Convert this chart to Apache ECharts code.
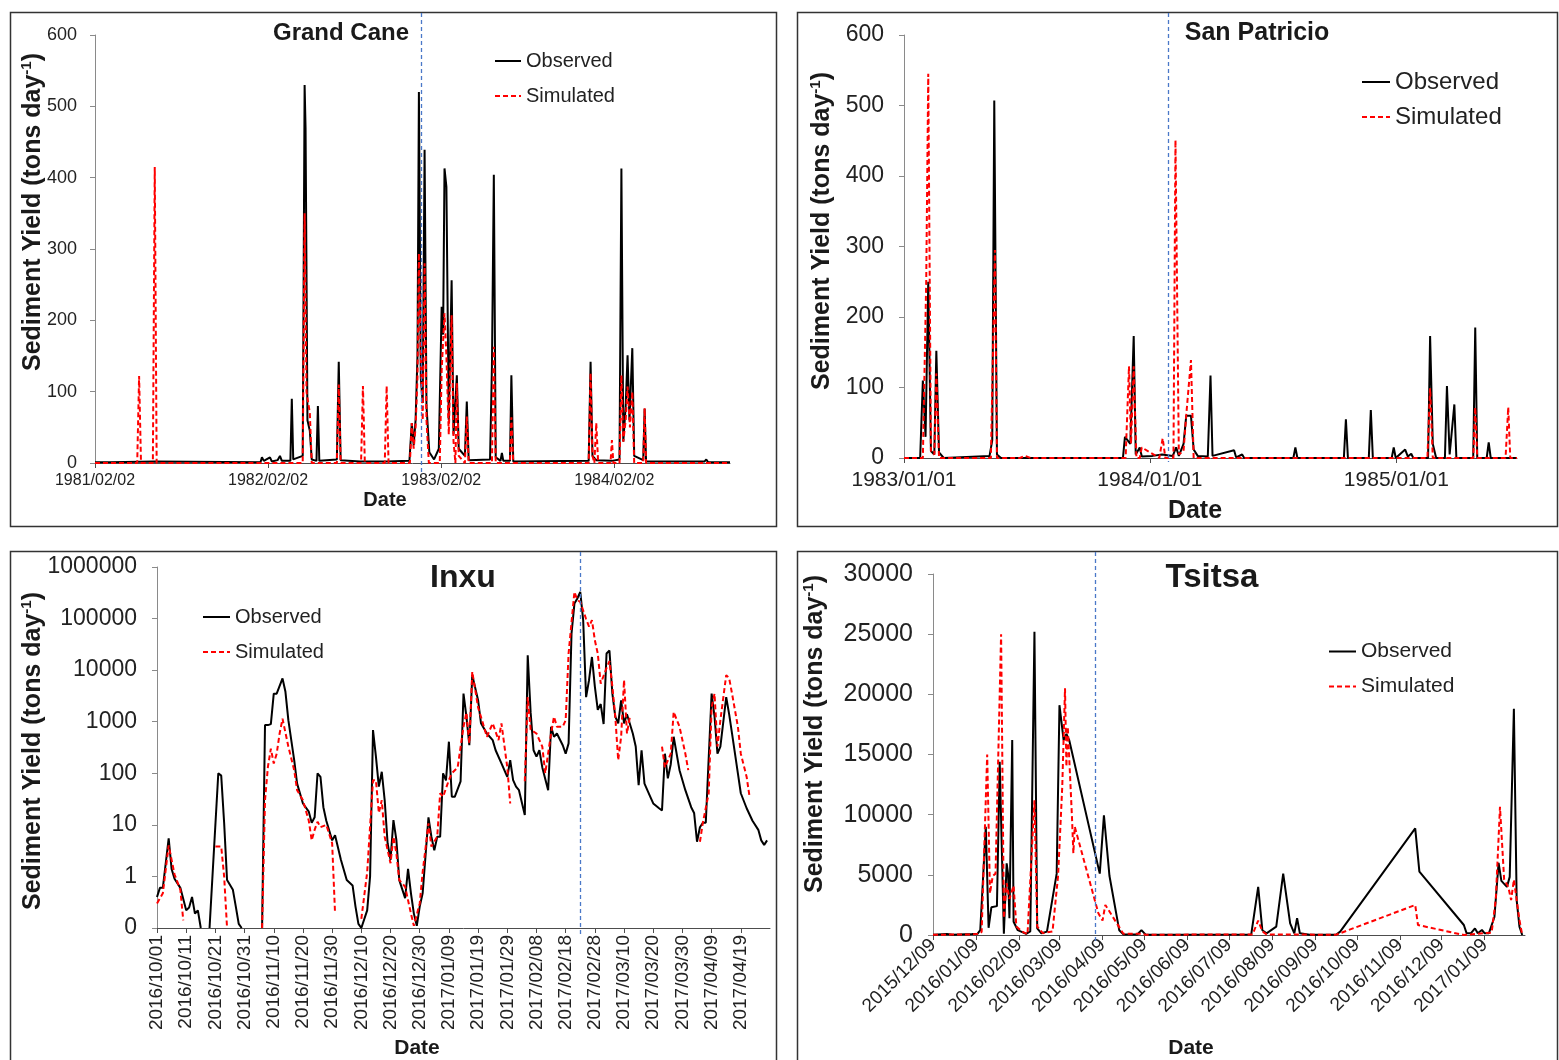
<!DOCTYPE html>
<html><head><meta charset="utf-8">
<script src="https://cdn.jsdelivr.net/npm/echarts@6/dist/echarts.min.js"></script>
<style>html,body{margin:0;padding:0;background:#fff}#c{width:1559px;height:1060px}</style>
</head><body><div id="c"></div>
<script>
// ---------------- DATA ----------------
const seriesNames = ['Observed', 'Simulated'];
const panelTitles = ['Grand Cane', 'San Patricio', 'Inxu', 'Tsitsa'];
const xAxisTitle = 'Date';

// Grand Cane
const gcTicks = ['1981/02/02', '1982/02/02', '1983/02/02', '1984/02/02'];
const gcRange = ['1981/02/02', '1984/10/03'];
const gcSplit = '1982/12/23';
const gcObserved = [['1981/02/02',1],['1981/02/26',1],['1981/03/01',3],['1981/03/05',1],['1981/06/08',2],['1981/06/12',1],
['1982/01/17',1],['1982/01/20',8],['1982/01/24',3],['1982/02/06',8],['1982/02/10',2],['1982/02/22',4],['1982/02/27',10],['1982/03/03',3],
['1982/03/21',3],['1982/03/24',90],['1982/03/27',5],['1982/04/16',10],['1982/04/20',530],['1982/04/22',470],['1982/04/26',60],['1982/05/01',45],
['1982/05/05',5],['1982/05/15',3],['1982/05/18',80],['1982/05/21',3],['1982/06/27',5],['1982/07/01',142],['1982/07/05',4],['1982/08/15',2],
['1982/10/10',2],['1982/11/27',3],['1982/12/02',56],['1982/12/06',25],['1982/12/10',60],['1982/12/14',150],['1982/12/17',520],['1982/12/21',120],
['1982/12/25',84],['1982/12/29',439],['1983/01/02',80],['1983/01/08',15],['1983/01/18',5],['1983/01/28',20],['1983/02/03',219],['1983/02/06',180],
['1983/02/09',413],['1983/02/13',387],['1983/02/18',60],['1983/02/24',256],['1983/02/28',40],['1983/03/07',123],['1983/03/11',20],['1983/03/24',10],
['1983/03/28',86],['1983/04/01',4],['1983/05/16',5],['1983/05/20',135],['1983/05/24',404],['1983/05/28',8],['1983/06/07',3],['1983/06/10',14],
['1983/06/13',3],['1983/06/27',3],['1983/06/30',123],['1983/07/04',2],['1983/12/10',3],['1983/12/14',142],['1983/12/18',10],['1983/12/26',4],
['1984/01/28',3],['1984/02/13',5],['1984/02/17',413],['1984/02/21',30],['1984/02/26',80],['1984/03/01',151],['1984/03/05',60],['1984/03/11',161],
['1984/03/15',10],['1984/04/03',4],['1984/04/06',76],['1984/04/09',2],['1984/08/10',2],['1984/08/14',5],['1984/08/18',1],['1984/10/03',1]];
const gcSimulated = [['1981/02/02',0],['1981/05/02',0],['1981/05/06',122],['1981/05/10',0],['1981/06/04',0],['1981/06/08',415],['1981/06/12',0],
['1982/04/16',0],['1982/04/20',350],['1982/04/24',100],['1982/05/01',70],['1982/05/05',0],['1982/06/27',0],['1982/07/01',110],['1982/07/05',0],
['1982/08/17',0],['1982/08/21',108],['1982/08/25',0],['1982/10/06',0],['1982/10/10',108],['1982/10/14',0],['1982/11/28',0],['1982/12/02',56],
['1982/12/06',20],['1982/12/10',50],['1982/12/14',120],['1982/12/17',294],['1982/12/21',150],['1982/12/25',60],['1982/12/29',280],['1983/01/02',60],
['1983/01/07',0],['1983/01/30',0],['1983/02/03',130],['1983/02/09',210],['1983/02/13',150],['1983/02/18',40],['1983/02/24',207],['1983/02/28',30],
['1983/03/04',0],['1983/03/07',112],['1983/03/11',10],['1983/03/24',0],['1983/03/28',65],['1983/04/01',0],['1983/05/20',0],['1983/05/24',163],
['1983/05/28',0],['1983/06/27',0],['1983/06/30',64],['1983/07/04',0],['1983/12/10',0],['1983/12/14',126],['1983/12/18',10],['1983/12/22',0],
['1983/12/26',56],['1983/12/30',0],['1984/01/25',0],['1984/01/28',32],['1984/01/31',0],['1984/02/13',0],['1984/02/17',123],['1984/02/21',30],
['1984/02/26',60],['1984/03/01',107],['1984/03/06',50],['1984/03/11',100],['1984/03/15',0],['1984/04/03',0],['1984/04/06',77],['1984/04/09',0],
['1984/10/03',0]];

// San Patricio
const spTicks = ['1983/01/01', '1984/01/01', '1985/01/01'];
const spRange = ['1983/01/01', '1985/06/29'];
const spSplit = '1984/01/28';
const spObserved = [['1983/01/01',0],['1983/01/25',0],['1983/01/29',110],['1983/02/02',30],['1983/02/06',250],['1983/02/10',10],['1983/02/15',5],
['1983/02/18',152],['1983/02/22',8],['1983/03/01',0],['1983/05/08',3],['1983/05/12',25],['1983/05/15',507],['1983/05/19',5],['1983/05/25',0],
['1983/11/22',0],['1983/11/25',30],['1983/12/03',20],['1983/12/08',173],['1983/12/11',5],['1983/12/17',15],['1983/12/20',2],['1984/01/05',3],
['1984/01/19',5],['1984/02/04',3],['1984/02/09',15],['1984/02/13',3],['1984/02/20',20],['1984/02/24',60],['1984/03/02',60],['1984/03/06',12],
['1984/03/12',3],['1984/03/27',2],['1984/03/31',117],['1984/04/03',3],['1984/05/05',11],['1984/05/08',1],['1984/05/17',5],['1984/05/20',0],
['1984/08/01',0],['1984/08/04',15],['1984/08/07',0],['1984/10/15',0],['1984/10/18',55],['1984/10/21',0],['1984/11/21',0],['1984/11/24',68],
['1984/11/27',0],['1984/12/25',0],['1984/12/28',15],['1984/12/31',0],['1985/01/14',12],['1985/01/18',2],['1985/01/23',6],['1985/01/26',0],
['1985/02/17',0],['1985/02/20',173],['1985/02/24',20],['1985/03/01',0],['1985/03/14',0],['1985/03/17',102],['1985/03/21',5],['1985/03/28',76],
['1985/03/31',0],['1985/04/25',0],['1985/04/28',185],['1985/05/01',0],['1985/05/15',0],['1985/05/18',22],['1985/05/21',0],['1985/06/29',0]];
const spSimulated = [['1983/01/01',0],['1983/01/29',0],['1983/02/03',252],['1983/02/06',545],['1983/02/10',10],['1983/02/15',5],['1983/02/18',120],
['1983/02/22',0],['1983/05/10',0],['1983/05/16',295],['1983/05/19',0],['1983/06/22',0],['1983/06/30',3],['1983/07/08',0],['1983/11/26',0],
['1983/12/01',130],['1983/12/04',20],['1983/12/08',130],['1983/12/12',0],['1983/12/17',0],['1983/12/20',15],['1984/01/15',0],['1984/01/20',28],
['1984/01/24',0],['1984/02/05',0],['1984/02/08',451],['1984/02/13',5],['1984/02/20',10],['1984/02/24',61],['1984/03/02',139],['1984/03/06',0],
['1985/02/16',0],['1985/02/20',99],['1985/02/24',0],['1985/04/25',0],['1985/04/28',72],['1985/05/01',0],['1985/06/12',0],['1985/06/16',72],
['1985/06/19',0],['1985/06/29',0]];

// Inxu
const inTicks = ['2016/10/01','2016/10/11','2016/10/21','2016/10/31','2016/11/10','2016/11/20','2016/11/30','2016/12/10','2016/12/20',
'2016/12/30','2017/01/09','2017/01/19','2017/01/29','2017/02/08','2017/02/18','2017/02/28','2017/03/10','2017/03/20','2017/03/30',
'2017/04/09','2017/04/19'];
const inYTicks = [0.1, 1, 10, 100, 1000, 10000, 100000, 1000000];
const inRange = ['2016/10/01', '2017/04/29'];
const inSplit = '2017/02/23';
const inObserved = [['2016/10/01',0.4],['2016/10/02',0.6],['2016/10/03',0.6],['2016/10/05',5.5],['2016/10/06',1.4],['2016/10/07',0.9],
['2016/10/09',0.6],['2016/10/11',0.22],['2016/10/12',0.25],['2016/10/13',0.4],['2016/10/14',0.19],['2016/10/15',0.22],['2016/10/16',0.1],
['2016/10/17',null],['2016/10/19',0.1],['2016/10/22',100],['2016/10/23',90],['2016/10/24',11],['2016/10/25',0.85],['2016/10/27',0.55],
['2016/10/28',0.26],['2016/10/29',0.12],['2016/10/30',0.1],['2016/10/31',null],['2016/11/06',0.1],['2016/11/07',860],['2016/11/08',860],
['2016/11/09',900],['2016/11/10',3500],['2016/11/11',3500],['2016/11/13',6900],['2016/11/14',3800],['2016/11/15',1070],['2016/11/17',180],
['2016/11/18',63],['2016/11/20',26],['2016/11/22',18],['2016/11/23',11],['2016/11/24',14],['2016/11/25',100],['2016/11/26',85],['2016/11/27',22],
['2016/11/28',12],['2016/11/30',5],['2016/12/01',6.3],['2016/12/03',2.1],['2016/12/05',0.85],['2016/12/07',0.67],['2016/12/08',0.26],
['2016/12/09',0.12],['2016/12/10',0.1],['2016/12/12',0.22],['2016/12/13',1],['2016/12/14',690],['2016/12/15',210],['2016/12/16',55],
['2016/12/17',107],['2016/12/18',30],['2016/12/19',4.4],['2016/12/20',2.1],['2016/12/21',12.4],['2016/12/22',5.1],['2016/12/23',0.85],
['2016/12/25',0.38],['2016/12/26',1.4],['2016/12/27',0.47],['2016/12/28',0.19],['2016/12/29',0.11],['2016/12/30',0.26],['2016/12/31',0.47],
['2017/01/02',14],['2017/01/03',5.9],['2017/01/04',3.2],['2017/01/05',5.9],['2017/01/06',5.9],['2017/01/07',100],['2017/01/08',73],
['2017/01/09',410],['2017/01/10',35],['2017/01/11',35],['2017/01/13',70],['2017/01/14',3500],['2017/01/15',1250],['2017/01/16',350],
['2017/01/17',8000],['2017/01/19',2600],['2017/01/20',930],['2017/01/22',590],['2017/01/24',440],['2017/01/25',280],['2017/01/27',155],
['2017/01/29',85],['2017/01/30',180],['2017/01/31',74],['2017/02/01',55],['2017/02/02',47],['2017/02/04',15.5],['2017/02/05',19500],
['2017/02/06',1500],['2017/02/07',280],['2017/02/08',210],['2017/02/09',280],['2017/02/10',130],['2017/02/12',47],['2017/02/13',800],
['2017/02/14',510],['2017/02/15',590],['2017/02/17',350],['2017/02/18',240],['2017/02/19',380],['2017/02/20',51000],['2017/02/21',195000],
['2017/02/22',245000],['2017/02/23',330000],['2017/02/24',93000],['2017/02/25',3000],['2017/02/26',6400],['2017/02/27',18000],['2017/02/28',4800],
['2017/03/01',1700],['2017/03/02',2200],['2017/03/03',900],['2017/03/04',21000],['2017/03/05',24000],['2017/03/06',3500],['2017/03/07',1250],
['2017/03/08',930],['2017/03/09',2600],['2017/03/10',930],['2017/03/11',1400],['2017/03/13',590],['2017/03/14',330],['2017/03/15',59],
['2017/03/16',280],['2017/03/17',63],['2017/03/19',35],['2017/03/20',26],['2017/03/22',21],['2017/03/23',19],['2017/03/24',240],['2017/03/25',80],
['2017/03/26',150],['2017/03/27',510],['2017/03/29',115],['2017/03/31',47],['2017/04/02',22],['2017/04/03',17],['2017/04/04',4.7],['2017/04/05',9],
['2017/04/06',11],['2017/04/07',11],['2017/04/09',3500],['2017/04/10',1250],['2017/04/11',240],['2017/04/12',330],['2017/04/14',3000],
['2017/04/15',1400],['2017/04/16',590],['2017/04/18',100],['2017/04/19',41],['2017/04/21',21],['2017/04/23',12],['2017/04/25',8],['2017/04/26',5],
['2017/04/27',4.1],['2017/04/28',5]];
const inSimulated = [['2016/10/01',0.3],['2016/10/03',0.47],['2016/10/05',4],['2016/10/07',1.1],['2016/10/09',0.55],['2016/10/10',0.14],
['2016/10/11',null],['2016/10/21',3.8],['2016/10/23',3.8],['2016/10/24',1],['2016/10/25',0.1],['2016/10/26',null],['2016/11/06',0.1],
['2016/11/07',30],['2016/11/08',134],['2016/11/09',300],['2016/11/10',155],['2016/11/11',240],['2016/11/12',590],['2016/11/13',1140],
['2016/11/15',330],['2016/11/17',115],['2016/11/18',47],['2016/11/20',30],['2016/11/22',12],['2016/11/23',5],['2016/11/24',8],['2016/11/25',11.5],
['2016/11/26',9],['2016/11/28',10],['2016/11/30',4.4],['2016/12/01',0.19],['2016/12/02',null],['2016/12/10',0.15],['2016/12/12',1.2],
['2016/12/14',73],['2016/12/15',73],['2016/12/16',17],['2016/12/17',30],['2016/12/18',5.9],['2016/12/20',1.8],['2016/12/21',5.9],['2016/12/22',2.8],
['2016/12/23',0.85],['2016/12/25',0.63],['2016/12/27',0.19],['2016/12/28',0.11],['2016/12/30',0.3],['2016/12/31',1.2],['2017/01/02',10.7],
['2017/01/03',3.8],['2017/01/05',5.9],['2017/01/06',41],['2017/01/07',35],['2017/01/09',74],['2017/01/10',100],['2017/01/12',130],
['2017/01/14',800],['2017/01/15',1500],['2017/01/16',380],['2017/01/17',9300],['2017/01/19',1900],['2017/01/21',800],['2017/01/22',510],
['2017/01/24',930],['2017/01/26',440],['2017/01/27',930],['2017/01/29',130],['2017/01/30',26],['2017/01/31',null],['2017/02/04',70],
['2017/02/05',3000],['2017/02/06',700],['2017/02/08',590],['2017/02/10',330],['2017/02/11',100],['2017/02/13',590],['2017/02/14',1250],
['2017/02/15',800],['2017/02/17',800],['2017/02/18',1070],['2017/02/19',21000],['2017/02/21',330000],['2017/02/22',230000],['2017/02/23',210000],
['2017/02/25',98000],['2017/02/26',70000],['2017/02/27',93000],['2017/02/28',38000],['2017/03/01',21000],['2017/03/02',5500],['2017/03/04',11000],
['2017/03/05',15000],['2017/03/06',4800],['2017/03/07',1250],['2017/03/08',180],['2017/03/09',510],['2017/03/10',6400],['2017/03/11',590],
['2017/03/12',1250],['2017/03/13',null],['2017/03/23',330],['2017/03/24',130],['2017/03/26',240],['2017/03/27',1550],['2017/03/29',800],
['2017/03/31',240],['2017/04/01',115],['2017/04/02',null],['2017/04/05',4.7],['2017/04/06',11],['2017/04/08',41],['2017/04/09',1900],
['2017/04/10',3500],['2017/04/11',330],['2017/04/12',1070],['2017/04/14',8000],['2017/04/15',7000],['2017/04/16',3500],['2017/04/18',800],
['2017/04/19',240],['2017/04/21',85],['2017/04/22',35]];

// Tsitsa
const tsTicks = ['2015/12/09','2016/01/09','2016/02/09','2016/03/09','2016/04/09','2016/05/09','2016/06/09','2016/07/09','2016/08/09',
'2016/09/09','2016/10/09','2016/11/09','2016/12/09','2017/01/09'];
const tsRange = ['2015/12/09', '2017/02/07'];
const tsSplit = '2016/04/04';
const tsObserved = [['2015/12/09',20],['2015/12/19',80],['2015/12/23',20],['2016/01/06',80],['2016/01/10',100],['2016/01/12',400],
['2016/01/16',9000],['2016/01/18',600],['2016/01/20',2300],['2016/01/24',2400],['2016/01/26',14400],['2016/01/29',100],['2016/01/31',5950],
['2016/02/01',5100],['2016/02/02',1400],['2016/02/04',16200],['2016/02/05',1100],['2016/02/08',400],['2016/02/14',100],['2016/02/17',300],
['2016/02/20',25200],['2016/02/22',550],['2016/02/25',140],['2016/02/29',280],['2016/03/07',5100],['2016/03/09',19100],['2016/03/12',16200],
['2016/03/14',16700],['2016/03/16',16200],['2016/04/07',5100],['2016/04/10',9950],['2016/04/14',4900],['2016/04/21',400],['2016/04/24',50],
['2016/05/04',50],['2016/05/07',400],['2016/05/10',30],['2016/07/25',50],['2016/07/30',4000],['2016/08/02',400],['2016/08/05',140],
['2016/08/12',700],['2016/08/17',5100],['2016/08/22',970],['2016/08/25',140],['2016/08/27',1400],['2016/08/29',140],['2016/09/05',20],
['2016/09/24',20],['2016/09/27',280],['2016/11/20',8860],['2016/11/23',5260],['2016/12/25',830],['2016/12/27',140],['2016/12/30',140],
['2017/01/02',550],['2017/01/04',140],['2017/01/07',415],['2017/01/09',140],['2017/01/12',140],['2017/01/16',1500],['2017/01/19',6000],
['2017/01/21',4500],['2017/01/25',4000],['2017/01/27',4830],['2017/01/30',18800],['2017/02/01',2900],['2017/02/03',690],['2017/02/05',0]];
const tsSimulated = [['2015/12/09',20],['2016/01/06',50],['2016/01/11',100],['2016/01/13',250],['2016/01/17',15000],['2016/01/19',3460],
['2016/01/21',4900],['2016/01/23',5100],['2016/01/27',25000],['2016/01/29',1400],['2016/01/31',4300],['2016/02/02',3000],['2016/02/05',4100],
['2016/02/07',700],['2016/02/11',300],['2016/02/15',50],['2016/02/20',11200],['2016/02/22',700],['2016/02/26',150],['2016/03/04',300],
['2016/03/08',4900],['2016/03/11',12300],['2016/03/13',20500],['2016/03/14',14000],['2016/03/15',17300],['2016/03/18',9800],['2016/03/19',6800],
['2016/03/20',9000],['2016/04/06',1800],['2016/04/09',1200],['2016/04/11',2500],['2016/04/24',100],['2016/05/07',100],['2016/05/10',20],
['2016/07/26',50],['2016/07/30',1200],['2016/08/02',300],['2016/08/05',50],['2016/09/24',20],['2016/11/20',2490],['2016/11/22',830],
['2016/12/25',0],['2017/01/14',200],['2017/01/17',3000],['2017/01/20',10650],['2017/01/23',4600],['2017/01/26',4000],['2017/01/28',2900],
['2017/01/30',4600],['2017/02/03',1250],['2017/02/05',0]];

// ---------------- CHART ----------------
const F = '"Liberation Sans", Arial, Helvetica, sans-serif';
const T = s => new Date(s).getTime();
const toXY = data => data.map(p => [T(p[0]), p[1] === null ? '-' : p[1]]);
function fmtDate(v) {
  const d = new Date(v), p = n => (n < 10 ? '0' : '') + n;
  return d.getFullYear() + '/' + p(d.getMonth() + 1) + '/' + p(d.getDate());
}
function xAxisDate(gi, range, ticks, fontSize, margin, rotate) {
  const vals = ticks.map(T);
  return {
    type: 'value', gridIndex: gi, min: T(range[0]), max: T(range[1]), scale: true,
    axisLine: { show: true, onZero: false, lineStyle: { color: '#4d4d4d', width: 1 } },
    axisTick: { show: true, length: 5, customValues: vals, lineStyle: { color: '#4d4d4d' } },
    axisLabel: { customValues: vals, formatter: v => fmtDate(v), fontSize, margin, rotate: rotate || 0,
      color: '#222', fontFamily: F, hideOverlap: false, showMinLabel: true, showMaxLabel: true },
    splitLine: { show: false }, minorTick: { show: false }
  };
}
function yAxisVal(gi, max, interval, fontSize, margin) {
  return {
    type: 'value', gridIndex: gi, min: 0, max, interval,
    axisLine: { show: true, lineStyle: { color: '#8a8a8a' } },
    axisTick: { show: true, length: 5, lineStyle: { color: '#8a8a8a' } },
    axisLabel: { fontSize, margin, color: '#222', fontFamily: F, formatter: v => String(v) },
    splitLine: { show: false }
  };
}
const blue = { color: '#4a78c8', type: [4, 3], width: 1.3 };
// split: date of the calibration/validation boundary; span: vertical pixel extent of the dashed marker
function series(name, gi, data, split, span) {
  const sim = name === seriesNames[1];
  const s = {
    name, type: 'line', xAxisIndex: gi, yAxisIndex: gi, data: toXY(data),
    symbol: 'none', showSymbol: false, connectNulls: false, animation: false, clip: false,
    lineStyle: sim ? { color: '#ff0000', width: 2, type: [5, 3] } : { color: '#000', width: 2 },
    itemStyle: { color: sim ? '#ff0000' : '#000' }, z: sim ? 3 : 2
  };
  if (split) {
    s.markLine = { silent: true, symbol: ['none', 'none'], label: { show: false }, lineStyle: blue, animation: false,
      data: [[{ xAxis: T(split), y: span[0] }, { xAxis: T(split), y: span[1] }]] };
  }
  return s;
}
function legend(left, top, fontSize, itemWidth, gap) {
  return {
    orient: 'vertical', left, top, itemWidth, itemHeight: 14, itemGap: gap, data: seriesNames,
    textStyle: { fontSize, fontFamily: F, color: '#222' }, itemStyle: { opacity: 0 }, selectedMode: false
  };
}
function txt(x, y, text, size, bold) {
  return { type: 'text', x, y, z: 10, style: { text, fontSize: size, fontWeight: bold ? 'bold' : 'normal', fontFamily: F,
    fill: '#1a1a1a', align: 'center', verticalAlign: 'middle', textAlign: 'center', textVerticalAlign: 'middle' } };
}
function yName(x, y, size) {
  return { type: 'text', x, y, rotation: Math.PI / 2, z: 10,
    style: { text: '{a|Sediment Yield (tons day}{s|-1}{a|)}', align: 'center', verticalAlign: 'middle',
      textAlign: 'center', textVerticalAlign: 'middle',
      rich: { a: { fontSize: size, fontWeight: 'bold', fontFamily: F, fill: '#1a1a1a', lineHeight: size + 2 },
              s: { fontSize: Math.round(size * 0.6), fontWeight: 'bold', fontFamily: F, fill: '#1a1a1a', verticalAlign: 'top', lineHeight: Math.round(size * 0.6) } } } };
}
function box(x, y, w, h) {
  return { type: 'rect', shape: { x, y, width: w, height: h }, z: 0, silent: true,
    style: { fill: 'none', stroke: '#333', lineWidth: 1.5 } };
}

const chart = echarts.init(document.getElementById('c'), null, { renderer: 'canvas' });
chart.setOption({
  animation: false,
  backgroundColor: '#fff',
  grid: [
    { left: 95, top: 35, width: 635, height: 428, outerBoundsMode: 'none' },
    { left: 904, top: 35, width: 613, height: 423, outerBoundsMode: 'none' },
    { left: 157, top: 567, width: 613, height: 361, outerBoundsMode: 'none' },
    { left: 933, top: 574, width: 592, height: 361, outerBoundsMode: 'none' }
  ],
  xAxis: [
    xAxisDate(0, gcRange, gcTicks, 16, 10),
    xAxisDate(1, spRange, spTicks, 21, 12),
    xAxisDate(2, inRange, inTicks, 19, 7, 90),
    xAxisDate(3, tsRange, tsTicks, 19, 7, 45)
  ],
  yAxis: [
    yAxisVal(0, 600, 100, 18, 18),
    yAxisVal(1, 600, 100, 23, 20),
    { type: 'log', gridIndex: 2, logBase: 10, min: 0.1, max: 1000000, splitNumber: 7,
      axisLine: { show: true, lineStyle: { color: '#8a8a8a' } },
      axisTick: { show: true, length: 5, customValues: inYTicks, lineStyle: { color: '#8a8a8a' } },
      axisLabel: { customValues: inYTicks, fontSize: 23, margin: 20, color: '#222', fontFamily: F,
        formatter: v => (v < 1 ? '0' : String(Math.round(v))) },
      splitLine: { show: false }, minorTick: { show: false } },
    yAxisVal(3, 30000, 5000, 25, 20)
  ],
  legend: [
    legend(489, 46, 20, 26, 15),
    legend(1356, 65, 24, 28, 11),
    legend(197, 602, 20, 27, 15),
    legend(1323, 636, 21, 27, 14)
  ],
  graphic: { elements: [
    box(10.5, 12.5, 766, 514), box(797.5, 12.5, 760, 514), box(10.5, 551.5, 766, 512), box(797.5, 551.5, 760, 512),
    txt(341, 33, panelTitles[0], 24, true), txt(1257, 33, panelTitles[1], 25, true),
    txt(463, 578, panelTitles[2], 32, true), txt(1212, 578, panelTitles[3], 33, true),
    txt(385, 500, xAxisTitle, 20, true), txt(1195, 511, xAxisTitle, 25, true),
    txt(417, 1048, xAxisTitle, 21, true), txt(1191, 1048, xAxisTitle, 21, true),
    yName(33, 212, 25), yName(822, 231, 25), yName(33, 751, 25), yName(815, 734, 25)
  ] },
  series: [
    series(seriesNames[0], 0, gcObserved, gcSplit, [13, 474]), series(seriesNames[1], 0, gcSimulated),
    series(seriesNames[0], 1, spObserved, spSplit, [13, 462]), series(seriesNames[1], 1, spSimulated),
    series(seriesNames[0], 2, inObserved, inSplit, [552, 937]), series(seriesNames[1], 2, inSimulated),
    series(seriesNames[0], 3, tsObserved, tsSplit, [552, 944]), series(seriesNames[1], 3, tsSimulated)
  ]
});
</script></body></html>
